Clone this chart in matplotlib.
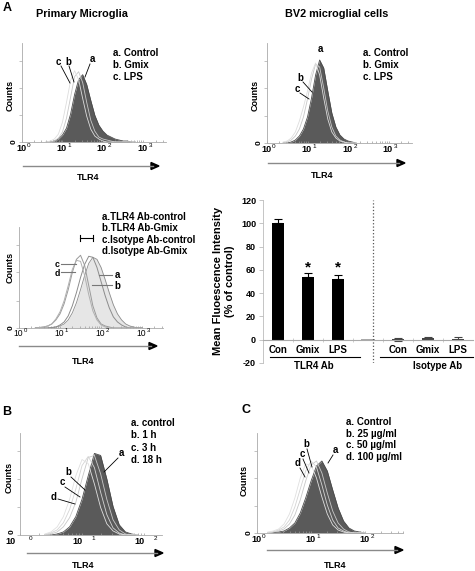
import matplotlib
matplotlib.use("Agg")
import matplotlib.pyplot as plt
from matplotlib.lines import Line2D
from matplotlib.patches import Polygon
from matplotlib.transforms import offset_copy
import numpy as np

plt.rcParams['font.family'] = ['Liberation Sans', 'DejaVu Sans']

W, H = 475, 571

# ---- data (log10 fluorescence bins, counts as % of axis height) ----
a1_logx = [0.6, 0.7, 0.8, 0.9, 1.0, 1.1, 1.2, 1.3, 1.4, 1.5, 1.6, 1.7, 1.8, 1.9, 2.0, 2.1, 2.2, 2.3, 2.4, 2.5, 2.6, 2.7, 2.8]
a1_control = [0, 0, 1, 3, 7, 14, 28, 48, 63, 68, 58, 42, 27, 17, 11, 7, 5, 3, 2, 1, 1, 0, 0]
a1_gmix = [0, 0, 1, 4, 10, 24, 45, 66, 71, 60, 40, 22, 11, 5, 3, 2, 1, 0, 0, 0, 0, 0, 0]
a1_lps = [0, 1, 3, 8, 20, 40, 62, 72, 63, 44, 26, 13, 6, 3, 1, 0, 0, 0, 0, 0, 0, 0, 0]

a2_logx = [0.4, 0.5, 0.6, 0.7, 0.8, 0.9, 1.0, 1.1, 1.2, 1.3, 1.4, 1.5, 1.6, 1.7, 1.8, 1.9, 2.0, 2.1, 2.2]
a2_control = [0, 0, 1, 3, 7, 14, 26, 45, 68, 83, 75, 52, 30, 16, 8, 4, 2, 1, 0]
a2_gmix = [0, 1, 3, 7, 14, 26, 44, 64, 79, 76, 55, 32, 16, 7, 3, 1, 0, 0, 0]
a2_lps = [1, 2, 5, 11, 22, 36, 52, 70, 80, 68, 45, 24, 11, 5, 2, 1, 0, 0, 0]

a3_logx = [0.4, 0.5, 0.6, 0.7, 0.8, 0.9, 1.0, 1.1, 1.2, 1.3, 1.4, 1.5, 1.6, 1.7, 1.8, 1.9,
           2.0, 2.1, 2.2, 2.3, 2.4, 2.5, 2.6, 2.7, 2.8, 2.9, 3.0]
a3_tlr4_control = [0, 0, 0, 0, 0.5, 1, 2, 4, 8, 15, 25, 38, 52, 64, 70, 68, 60, 48, 35, 23, 14, 8, 4, 2, 1, 0, 0]
a3_tlr4_gmix = [0, 0, 0, 0, 0.5, 1, 3, 6, 12, 22, 35, 50, 63, 71, 70, 60, 46, 32, 20, 11, 6, 3, 1, 0, 0, 0, 0]
a3_iso_control = [0, 0.5, 1, 2, 4, 8, 14, 24, 38, 55, 68, 72, 62, 42, 22, 10, 4, 2, 1, 0, 0, 0, 0, 0, 0, 0, 0]
a3_iso_gmix = [0, 0.5, 1, 2, 4, 9, 16, 27, 42, 58, 67, 66, 52, 33, 17, 8, 3, 1, 0, 0, 0, 0, 0, 0, 0, 0, 0]

b_logx = [0.4, 0.5, 0.6, 0.7, 0.8, 0.9, 1.0, 1.1, 1.2, 1.3, 1.4, 1.5, 1.6, 1.7, 1.8, 1.9]
b_control = [0, 0, 1, 3, 8, 18, 35, 58, 80, 78, 55, 28, 10, 3, 1, 0]
b_1h = [0, 1, 3, 8, 17, 32, 55, 76, 78, 60, 35, 15, 5, 1, 0, 0]
b_3h = [0.5, 2, 5, 12, 25, 45, 68, 77, 66, 42, 20, 7, 2, 0, 0, 0]
b_18h = [1, 3, 8, 18, 35, 58, 74, 70, 50, 27, 11, 4, 1, 0, 0, 0]

c_logx = [0.2, 0.3, 0.4, 0.5, 0.6, 0.7, 0.8, 0.9, 1.0, 1.1, 1.2, 1.3, 1.4, 1.5, 1.6, 1.7, 1.8, 1.9, 2.0]
c_control = [0, 0.5, 1, 2, 5, 10, 20, 35, 52, 67, 72, 62, 43, 25, 12, 5, 2, 1, 0]
c_25 = [0, 1, 2, 4, 9, 18, 33, 52, 68, 72, 60, 40, 22, 10, 4, 1, 0, 0, 0]
c_50 = [0.5, 1, 3, 6, 13, 26, 44, 62, 72, 66, 48, 28, 13, 5, 2, 0, 0, 0, 0]
c_100 = [1, 2, 4, 9, 19, 35, 55, 69, 68, 55, 36, 19, 8, 3, 1, 0, 0, 0, 0]

bar_groups = ['Con', 'Gmix', 'LPS']
tlr4_mfi = [100, 54, 52]
tlr4_err = [4, 3, 4]
iso_mfi = [0.3, 1.5, 1.0]
iso_err = [1.5, 0.8, 1.3]

fig = plt.figure(figsize=(W / 100, H / 100), dpi=100)


def fx(x):
    return x / W


def fy(y):
    return 1 - y / H


def label(x, y, s, size=7, weight='bold', ha='left', **kw):
    fig.text(fx(x), fy(y), s, fontsize=size, fontweight=weight, ha=ha, va='center', **kw)


def seg(x1, y1, x2, y2, color='black', lw=0.6, ls='-'):
    fig.add_artist(Line2D([fx(x1), fx(x2)], [fy(y1), fy(y2)], color=color, lw=lw, ls=ls))


def arrow(x1, x2, y):
    seg(x1, y, x2 - 6, y, color='#8a8a8a', lw=1.0)
    fig.add_artist(Polygon([[fx(x2 - 8), fy(y - 3.5)], [fx(x2), fy(y)], [fx(x2 - 8), fy(y + 3.5)]],
                           closed=True, color='black', transform=fig.transFigure))


def hist_axes(l, t, r, b, xmax):
    ax = fig.add_axes([fx(l), fy(b), fx(r - l), (b - t) / H])
    ax.set_xlim(0, xmax)
    ax.set_ylim(0, 100)
    ax.patch.set_alpha(0)
    for s in ['top', 'right']:
        ax.spines[s].set_visible(False)
    for s in ['left', 'bottom']:
        ax.spines[s].set_color('#aaaaaa')
        ax.spines[s].set_linewidth(0.6)
    ndec = int(np.floor(xmax)) + 1
    ax.set_xticks(range(ndec))
    ax.set_xticklabels([])
    minor = [d + np.log10(k) for d in range(ndec) for k in range(2, 10) if d + np.log10(k) < xmax]
    ax.set_xticks(minor, minor=True)
    ax.tick_params(axis='x', which='both', length=1.5, width=0.5, color='#999999', direction='in')
    ax.set_yticks([0, 27, 55, 82])
    ax.set_yticklabels(['0', '', '', ''], rotation=90, fontsize=6, fontweight='bold', va='center')
    ax.tick_params(axis='y', length=2, width=0.5, color='#aaaaaa', pad=1)
    return ax


def decade_labels(ax, n, dx10, dxsup, dy, weight='bold', size=6.5, first_dx=None):
    tr = ax.get_xaxis_transform()
    for d in range(n):
        d10 = first_dx if (d == 0 and first_dx is not None) else dx10
        ax.text(d, 0, '10', transform=offset_copy(tr, fig=fig, x=d10, y=dy, units='dots'),
                ha='center', va='center', fontsize=size, fontweight=weight)
        ax.text(d, 0, str(d), transform=offset_copy(tr, fig=fig, x=dxsup, y=dy + 3, units='dots'),
                ha='center', va='center', fontsize=size * 0.7, fontweight='normal')


def filled(ax, x, y, face, edge):
    ax.fill_between(x, y, color=face, lw=0)
    ax.plot(x, y, color=edge, lw=0.6)


def outline(ax, x, y, color, lw=0.6):
    ax.plot(x, y, color=color, lw=lw)


# ---------------- Panel A, top-left: primary microglia ----------------
label(3, 8, 'A', size=9)
label(36, 14, 'Primary Microglia', size=7.8)
ax1 = hist_axes(22, 43, 166, 142, 3.56)
filled(ax1, a1_logx, a1_control, '#5a5a5a', '#4a4a4a')
outline(ax1, a1_logx, a1_gmix, '#c8c8c8')
outline(ax1, a1_logx, a1_lps, '#dddddd')
decade_labels(ax1, 4, -1, 7, -7)
label(10, 95, 'Counts', size=6.5, rotation=90, ha='center')
arrow(23, 159, 166)
label(88, 177, 'TLR4', size=6.5, ha='center')
for i, s in enumerate(['a. Control', 'b. Gmix', 'c. LPS']):
    label(113, 53 + 12 * i, s)
label(58, 62, 'c', size=7, ha='center')
label(68, 62, 'b', size=7, ha='center')
label(92, 59, 'a', size=7, ha='center')
seg(61, 66, 70, 83)
seg(69, 66, 74, 82)
seg(90, 64, 85, 77)

# ---------------- Panel A, top-right: BV2 cells ----------------
label(337, 14, 'BV2 microglial cells', size=7.8, ha='center')
ax2 = hist_axes(267, 43, 412, 143, 3.58)
filled(ax2, a2_logx, a2_control, '#5a5a5a', '#4a4a4a')
outline(ax2, a2_logx, a2_gmix, '#c8c8c8')
outline(ax2, a2_logx, a2_lps, '#dddddd')
decade_labels(ax2, 4, -1, 7, -7)
label(255, 95, 'Counts', size=6.5, rotation=90, ha='center')
arrow(268, 405, 163)
label(322, 176, 'TLR4', size=6.5, ha='center')
for i, s in enumerate(['a. Control', 'b. Gmix', 'c. LPS']):
    label(363, 53 + 12 * i, s)
label(320, 49, 'a', size=7, ha='center')
label(300, 78, 'b', size=7, ha='center')
label(297, 89, 'c', size=7, ha='center')
seg(303, 82, 312, 92)
seg(300, 93, 309, 99)

# ---------------- Panel A, middle-left: isotype comparison ----------------
ax3 = hist_axes(19, 227, 163, 328, 3.51)
filled(ax3, a3_logx, a3_tlr4_control, '#e6e6e6', '#8c8c8c')
outline(ax3, a3_logx, a3_tlr4_gmix, '#8c8c8c', lw=0.7)
outline(ax3, a3_logx, a3_iso_control, '#9a9a9a', lw=0.7)
outline(ax3, a3_logx, a3_iso_gmix, '#b0b0b0', lw=0.7)
decade_labels(ax3, 4, -1, 6, -6, weight='normal', size=6.2)
label(10, 267, 'Counts', size=6.5, rotation=90, ha='center')
arrow(19, 157, 346)
label(83, 362, 'TLR4', size=6.5, ha='center')
for i, s in enumerate(['a.TLR4 Ab-control', 'b.TLR4 Ab-Gmix', 'c.Isotype Ab-control', 'd.Isotype Ab-Gmix']):
    label(102, 217 + 11.3 * i, s)
seg(80, 238, 93, 238, lw=0.8)
seg(80, 235, 80, 241, lw=0.8)
seg(93, 235, 93, 241, lw=0.8)
label(57, 264, 'c', size=6.3, ha='center')
label(57, 273, 'd', size=6.3, ha='center')
seg(61, 264, 76, 264, color='#777777', lw=0.8)
seg(61, 272, 75, 272, color='#777777', lw=0.8)
label(117, 275, 'a', size=7, ha='center')
label(117, 286, 'b', size=7, ha='center')
seg(99, 275, 112, 275, color='#777777', lw=0.8)
seg(92, 285, 112, 285, color='#777777', lw=0.8)

# ---------------- Panel A, bar chart ----------------
axb = fig.add_axes([fx(263), fy(363), fx(473 - 263), (363 - 200) / H])
axb.set_xlim(0.5, 7.5)
axb.set_ylim(-20, 120)
axb.patch.set_alpha(0)
pos_tlr4 = [1, 2, 3]
pos_iso = [5, 6, 7]
axb.bar(pos_tlr4, tlr4_mfi, width=0.43, color='black')
axb.errorbar(pos_tlr4, tlr4_mfi, yerr=[[0] * 3, tlr4_err], fmt='none', ecolor='black',
             capsize=3, elinewidth=0.8, capthick=0.8)
axb.bar(4, 0, width=0.45, color='#999999', edgecolor='#999999', lw=1.2)
axb.bar(pos_iso, iso_mfi, width=0.43, color='#444444')
axb.errorbar(pos_iso, iso_mfi, yerr=iso_err, fmt='none', ecolor='#444444',
             capsize=3, elinewidth=0.8, capthick=0.8)
for p in [2, 3]:
    axb.text(p, 62, '*', ha='center', va='center', fontsize=11, fontweight='bold')
axb.axvline(4.17, color='#555555', ls=':', lw=0.9)
for s in ['top', 'right']:
    axb.spines[s].set_visible(False)
axb.spines['left'].set_color('#bbbbbb')
axb.spines['left'].set_linewidth(0.6)
axb.spines['bottom'].set_position(('data', 0))
axb.spines['bottom'].set_color('#aaaaaa')
axb.spines['bottom'].set_linewidth(0.8)
axb.set_yticks(range(-20, 121, 20))
axb.set_yticklabels([str(v) for v in range(-20, 121, 20)], fontsize=6.5, fontweight='bold')
axb.tick_params(axis='y', length=3, width=0.6, color='#bbbbbb', pad=2)
axb.set_xticks([])
axb.set_xticks([1.5, 2.5, 3.5, 4.5, 5.5, 6.5], minor=True)
axb.tick_params(axis='x', which='minor', length=3, width=0.5, color='#bbbbbb', direction='inout')
for p, g in zip(pos_tlr4 + pos_iso, bar_groups + bar_groups):
    axb.text(p, -8.5, g, ha='center', va='center', fontsize=7, fontweight='bold')
axb.plot([0.73, 3.73], [-14.8, -14.8], color='black', lw=0.8, clip_on=False)
axb.plot([4.4, 7.5], [-14.8, -14.8], color='black', lw=0.8, clip_on=False)
axb.text(2.2, -23, 'TLR4 Ab', ha='center', va='center', fontsize=7, fontweight='bold')
axb.text(6.33, -23, 'Isotype Ab', ha='center', va='center', fontsize=7, fontweight='bold')
fig.text(fx(224), fy(281), 'Mean Fluoescence Intensity\n(% of control)', rotation=90,
         ha='center', va='center', multialignment='center', fontsize=8, fontweight='bold',
         linespacing=1.15)

# ---------------- Panel B: time course ----------------
label(2, 412, 'B', size=9)
axB = hist_axes(20, 433, 162, 535, 2.29)
axB.set_yticklabels(['', '', '', ''])
label(12, 532, '0', size=6, rotation=90, ha='center')
filled(axB, b_logx, b_control, '#5a5a5a', '#4a4a4a')
outline(axB, b_logx, b_1h, '#c8c8c8')
outline(axB, b_logx, b_3h, '#d4d4d4')
outline(axB, b_logx, b_18h, '#e0e0e0')
decade_labels(axB, 3, -5, 11, -6, first_dx=-10)
label(9, 477, 'Counts', size=6.5, rotation=90, ha='center')
arrow(27, 163, 553)
label(83, 566, 'TLR4', size=6.5, ha='center')
for i, s in enumerate(['a. control', 'b. 1 h', 'c. 3 h', 'd. 18 h']):
    label(131, 423 + 12.3 * i, s)
label(121, 453, 'a', size=7, ha='center')
seg(104, 472, 118, 458)
label(68, 472, 'b', size=7, ha='center')
seg(71, 477, 85, 490)
label(62, 482, 'c', size=7, ha='center')
seg(65, 487, 80, 497)
label(54, 497, 'd', size=7, ha='center')
seg(58, 499, 75, 504)

# ---------------- Panel C: dose response ----------------
label(241, 410, 'C', size=9)
axC = hist_axes(257, 433, 403, 533, 2.70)
filled(axC, c_logx, c_control, '#5a5a5a', '#4a4a4a')
outline(axC, c_logx, c_25, '#c8c8c8')
outline(axC, c_logx, c_50, '#d4d4d4')
outline(axC, c_logx, c_100, '#e0e0e0')
decade_labels(axC, 3, -1, 7, -6)
label(244, 480, 'Counts', size=6.5, rotation=90, ha='center')
arrow(267, 403, 550)
label(335, 566, 'TLR4', size=6.5, ha='center')
for i, s in enumerate(['a. Control', 'b. 25 \u00b5g/ml', 'c. 50 \u00b5g/ml', 'd. 100 \u00b5g/ml']):
    label(346, 422 + 11.7 * i, s)
label(335, 450, 'a', size=7, ha='center')
seg(333, 455, 328, 463)
label(306, 444, 'b', size=7, ha='center')
seg(307, 449, 312, 467)
label(302, 454, 'c', size=7, ha='center')
seg(303, 459, 309, 473)
label(298, 463, 'd', size=7, ha='center')
seg(300, 468, 305, 477)

fig.savefig('out.png', dpi=100)
